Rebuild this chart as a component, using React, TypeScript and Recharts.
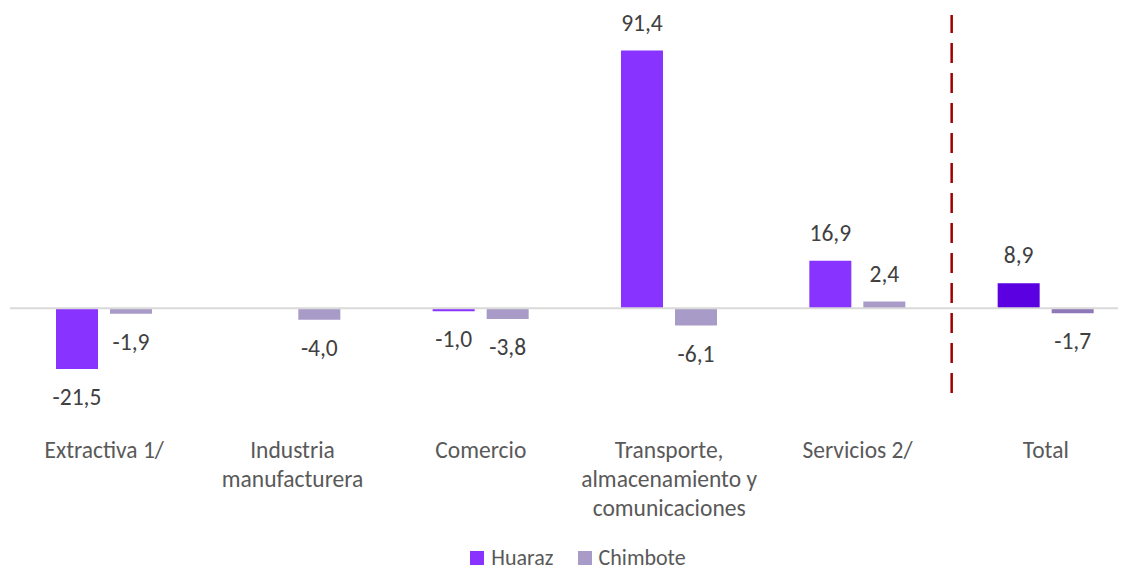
import React from 'react';
import { Bar, BarChart, Cell, LabelList, Legend, ReferenceLine, XAxis, YAxis } from 'recharts';

const CATEGORIES = [
  'Extractiva 1/',
  'Industria\nmanufacturera',
  'Comercio',
  'Transporte,\nalmacenamiento y\ncomunicaciones',
  'Servicios 2/',
  'Total',
];
const HUARAZ = [-21.5, null, -1.0, 91.4, 16.9, 8.9];
const CHIMBOTE = [-1.9, -4.0, -3.8, -6.1, 2.4, -1.7];
const HUARAZ_COLORS = ['#8833FF', '#8833FF', '#8833FF', '#8833FF', '#8833FF', '#5B00E0'];
const CHIMBOTE_COLORS = ['#A99BC8', '#A99BC8', '#A99BC8', '#A99BC8', '#A99BC8', '#8E78B8'];

const FONT = 'Carlito, Calibri, Lato, sans-serif';

const data = CATEGORIES.map((name, i) => ({
  name,
  huaraz: HUARAZ[i],
  chimbote: CHIMBOTE[i],
}));

const fmt = (v: number) => v.toFixed(1).replace('.', ',');

function ValueLabel(props: any) {
  const { x, y, width, height, value } = props;
  if (value === null || value === undefined) return null;
  const top = Math.min(y, y + height);
  const bottom = Math.max(y, y + height);
  const ty = value >= 0 ? top - 28 : bottom + 28;
  return (
    <text
      x={x + width / 2}
      y={ty}
      textAnchor="middle"
      dominantBaseline="central"
      fill="#404040"
      fontSize={23.5}
      fontFamily={FONT}
    >
      {fmt(value)}
    </text>
  );
}

function CategoryTick(props: any) {
  const { x, y, payload } = props;
  const lines = String(payload.value).split('\n');
  return (
    <g>
      {lines.map((line, i) => (
        <text
          key={i}
          x={x}
          y={y + 57 + i * 29}
          textAnchor="middle"
          dominantBaseline="central"
          fill="#595959"
          fontSize={23.5}
          fontFamily={FONT}
        >
          {line}
        </text>
      ))}
    </g>
  );
}

function LegendContent() {
  const items = [
    { label: 'Huaraz', color: '#8833FF' },
    { label: 'Chimbote', color: '#A99BC8' },
  ];
  return (
    <div
      style={{
        height: 26,
        display: 'flex',
        justifyContent: 'center',
        alignItems: 'center',
        gap: 24,
        fontFamily: FONT,
        fontSize: 22,
        color: '#595959',
        lineHeight: '26px',
        paddingLeft: 6,
      }}
    >
      {items.map((it) => (
        <span key={it.label} style={{ display: 'flex', alignItems: 'center', gap: 7 }}>
          <span style={{ width: 14, height: 14, background: it.color, display: 'inline-block' }} />
          {it.label}
        </span>
      ))}
    </div>
  );
}

export default function App() {
  return (
    <div style={{ width: 1118, height: 564, overflow: 'hidden', position: 'relative' }}>
      <BarChart
        width={1132}
        height={564}
        data={data}
        margin={{ top: 7, right: 0, bottom: 1, left: 2 }}
        barSize={42}
        barGap={12}
      >
        <XAxis
          dataKey="name"
          axisLine={false}
          tickLine={false}
          tickSize={0}
          tickMargin={0}
          height={152}
          interval={0}
          tick={<CategoryTick />}
        />
        <YAxis hide domain={[-30, 104]} />
        <ReferenceLine y={0} stroke="#D9D9D9" strokeWidth={2} />
        <ReferenceLine
          x="Total"
          position="start"
          stroke="#A00000"
          strokeWidth={2.5}
          strokeDasharray="20 10"
        />
        <Legend verticalAlign="bottom" content={<LegendContent />} />
        <Bar dataKey="huaraz" name="Huaraz" fill="#8833FF" isAnimationActive={false}>
          {data.map((_, i) => (
            <Cell key={i} fill={HUARAZ_COLORS[i]} />
          ))}
          <LabelList dataKey="huaraz" content={<ValueLabel />} />
        </Bar>
        <Bar dataKey="chimbote" name="Chimbote" fill="#A99BC8" isAnimationActive={false}>
          {data.map((_, i) => (
            <Cell key={i} fill={CHIMBOTE_COLORS[i]} />
          ))}
          <LabelList dataKey="chimbote" content={<ValueLabel />} />
        </Bar>
      </BarChart>
    </div>
  );
}
